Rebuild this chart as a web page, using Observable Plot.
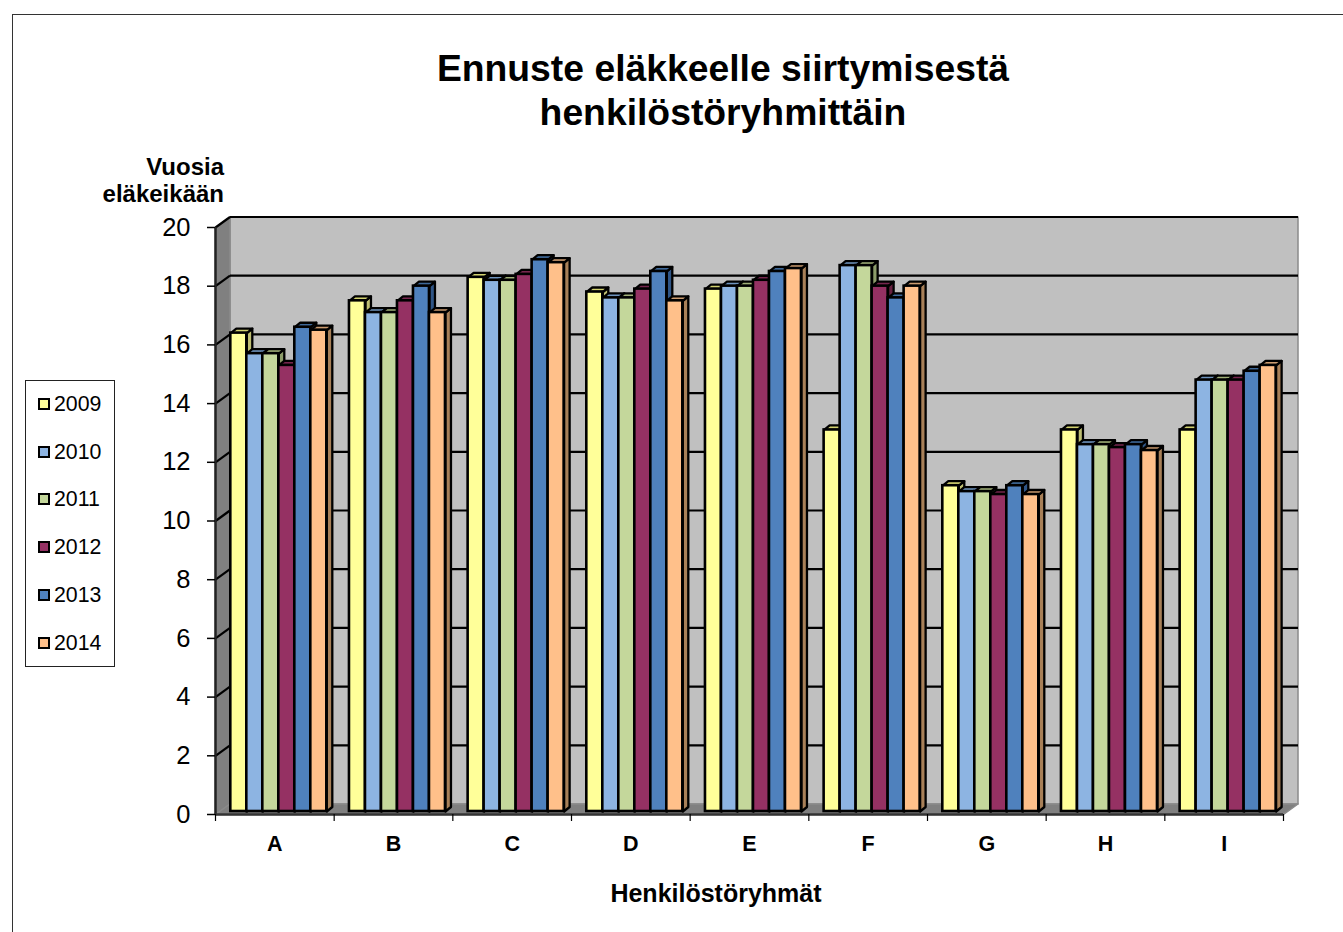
<!DOCTYPE html>
<html>
<head>
<meta charset="utf-8">
<script src="https://cdn.jsdelivr.net/npm/d3@7"></script>
<script src="https://cdn.jsdelivr.net/npm/@observablehq/plot@0.6"></script>
<style>
  html, body { margin: 0; padding: 0; background: #fff; width: 1343px; height: 932px; overflow: hidden; }
  body { position: relative; font-family: "Liberation Sans", Arial, sans-serif; color: #000; }
  #chart { position: absolute; left: 0; top: 0; }
  #frame { position: absolute; left: 12px; top: 14px; width: 1340px; height: 930px; border: 1px solid #333; box-sizing: border-box; }
  .t { position: absolute; white-space: nowrap; font-weight: bold; }
  #title { left: 223px; width: 1000px; top: 46px; text-align: center; font-size: 37.3px; line-height: 44px; }
  #ytitle { right: 1119px; top: 153px; text-align: right; font-size: 24px; line-height: 27px; }
  #xtitle { left: 216px; width: 1000px; top: 880px; text-align: center; font-size: 25px; line-height: 26px; }
  #legend { position: absolute; left: 25px; top: 380px; width: 90px; height: 287px; border: 1px solid #222; box-sizing: border-box; background: #fff; }
  .li { position: absolute; left: 12px; font-size: 21.3px; line-height: 24px; white-space: nowrap; }
  .li i { display: inline-block; width: 8px; height: 8px; border: 2px solid #000; margin-right: 4px; vertical-align: 1px; }
</style>
</head>
<body>
<div id="frame"></div>
<div id="chart"></div>
<div class="t" id="title">Ennuste eläkkeelle siirtymisestä<br>henkilöstöryhmittäin</div>
<div class="t" id="ytitle">Vuosia<br>eläkeikään</div>
<div class="t" id="xtitle">Henkilöstöryhmät</div>
<div id="legend"></div>
<script>
const groups = ["A", "B", "C", "D", "E", "F", "G", "H", "I"];
const years = ["2009", "2010", "2011", "2012", "2013", "2014"];

const v2009 = [16.3, 17.4, 18.2, 17.7, 17.8, 13.0, 11.1, 13.0, 13.0];
const v2010 = [15.6, 17.0, 18.1, 17.5, 17.9, 18.6, 10.9, 12.5, 14.7];
const v2011 = [15.6, 17.0, 18.1, 17.5, 17.9, 18.6, 10.9, 12.5, 14.7];
const v2012 = [15.2, 17.4, 18.3, 17.8, 18.1, 17.9, 10.8, 12.4, 14.7];
const v2013 = [16.5, 17.9, 18.8, 18.4, 18.4, 17.5, 11.1, 12.5, 15.0];
const v2014 = [16.4, 17.0, 18.7, 17.4, 18.5, 17.9, 10.8, 12.3, 15.2];
const series = [v2009, v2010, v2011, v2012, v2013, v2014];

const frontColors = ["#FFFF99", "#8DB4E2", "#C4D79B", "#953163", "#4F81BD", "#FFC08A"];
const topColors   = ["#D2D270", "#6F94BE", "#A0B078", "#76264E", "#3E6898", "#CC9C70"];
const sideColors  = ["#BEBE72", "#5C7FA8", "#8C9C6A", "#66203F", "#2F5586", "#A88058"];

const yTicks = d3.range(0, 21, 2);

// pixel geometry of the pseudo-3D box, converted to data units
const W = 1343, H = 932;
const mL = 215, mR = 60, mT = 227, mB = 118;
const ux = (W - mL - mR) / groups.length;   // px per group
const uy = (H - mT - mB) / 20;              // px per value unit
const wallDx = 14.5 / ux, wallDy = 10.5 / uy;
const barDx = 5.5 / ux, barDy = 4.5 / uy;
const baseDx = -0.7 / ux, baseDy = 3 / uy;     // shift of the bars' front plane
const barW = 16 / ux;
const pad = 16 / ux;

function poly(id, fill, pts) {
  return [...pts, pts[0]].map(([x, y]) => ({ id, fill, x, y }));
}

const fronts = [];
const depth = [];
groups.forEach((g, gi) => {
  years.forEach((yr, k) => {
    const x1 = gi + pad + k * barW + baseDx;
    const x2 = x1 + barW;
    const y0 = baseDy;
    const v = series[k][gi] + baseDy;
    fronts.push({ group: g, year: yr, x1, x2, y1: y0, y2: v });
    depth.push(...poly(`${g}${yr}s`, sideColors[k], [[x2, y0], [x2 + barDx, y0 + barDy], [x2 + barDx, v + barDy], [x2, v]]));
    depth.push(...poly(`${g}${yr}t`, topColors[k], [[x1, v], [x2, v], [x2 + barDx, v + barDy], [x1 + barDx, v + barDy]]));
  });
});

const n = groups.length;
const wall = [
  ...poly("back", "#C0C0C0", [[wallDx, wallDy], [n + wallDx, wallDy], [n + wallDx, 20 + wallDy], [wallDx, 20 + wallDy]]),
  ...poly("left", "#808080", [[0, 0], [wallDx, wallDy], [wallDx, 20 + wallDy], [0, 20]]),
  ...poly("floor", "#808080", [[0, 0], [n, 0], [n + wallDx, wallDy], [wallDx, wallDy]])
];

const plot = Plot.plot({
  width: W, height: H,
  marginLeft: mL, marginRight: mR, marginTop: mT, marginBottom: mB,
  style: { background: "transparent", fontFamily: '"Liberation Sans", Arial, sans-serif' },
  x: { type: "linear", domain: [0, n], label: null },
  y: { type: "linear", domain: [0, 20], label: null },
  color: { type: "ordinal", domain: years, range: frontColors },
  marks: [
    Plot.line(wall, { x: "x", y: "y", z: "id", fill: { value: "fill", scale: null }, stroke: "#8a8a8a", strokeWidth: 1.5, curve: "linear" }),
    // wall grid lines and their continuation on the left wall
    Plot.link(yTicks.filter(t => t > 0), { x1: () => wallDx, x2: () => n + wallDx, y1: t => t + wallDy, y2: t => t + wallDy, stroke: "#000", strokeWidth: 2.2 }),
    Plot.link(yTicks.filter(t => t > 0), { x1: () => 0, x2: () => wallDx, y1: t => t, y2: t => t + wallDy, stroke: "#000", strokeWidth: 2.2 }),
    Plot.line(depth, { x: "x", y: "y", z: "id", fill: { value: "fill", scale: null }, stroke: "#000", strokeWidth: 2.3, curve: "linear" }),
    Plot.rect(fronts, { x1: "x1", x2: "x2", y1: "y1", y2: "y2", fill: "year", stroke: "#000", strokeWidth: 2.6 }),
    Plot.ruleX([0], { y1: () => 0, y2: () => 20, stroke: "#222", strokeWidth: 2.5 }),
    Plot.ruleY([0], { x1: () => 0, x2: () => n, stroke: "#333", strokeWidth: 2.5 }),
    Plot.axisY({ ticks: yTicks, tickSize: 8, tickPadding: 17, fontSize: 25.5, tickFormat: d => String(d), stroke: "#000", strokeWidth: 1.5, label: null }),
    Plot.ruleX(d3.range(0, n + 1), { y1: () => 0, y2: () => -7 / uy, stroke: "#000", strokeWidth: 1.2 }),
    Plot.axisX({ ticks: groups.map((g, i) => i + 0.5), tickSize: 0, tickPadding: 21, fontSize: 21.5, fontWeight: "bold", tickFormat: d => groups[Math.floor(d)], label: null })
  ]
});
document.getElementById("chart").append(plot);

const legend = document.getElementById("legend");
years.forEach((yr, k) => {
  const row = document.createElement("div");
  row.className = "li";
  row.style.top = (11 + k * 47.7) + "px";
  const sw = document.createElement("i");
  sw.style.background = frontColors[k];
  row.append(sw, yr);
  legend.append(row);
});
</script>
</body>
</html>
